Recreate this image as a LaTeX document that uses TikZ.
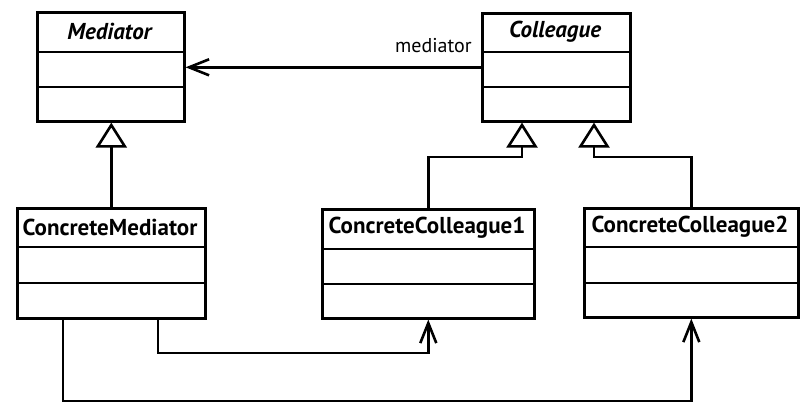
\documentclass[tikz,border=0pt]{standalone}
\usepackage{fontspec}
\setmainfont{PT Sans}
\usetikzlibrary{arrows.meta,calc}
\begin{document}
\begin{tikzpicture}[x=1pt,y=-1pt,line width=2.6pt,
  classbox/.style={draw,rectangle,anchor=north west,inner sep=0pt},
  title/.style={font=\fontsize{23}{26}\selectfont\bfseries,inner sep=0pt},
  atitle/.style={font=\fontsize{23}{26}\selectfont\bfseries\itshape,inner sep=0pt},
  lbl/.style={font=\fontsize{20}{24}\selectfont,inner sep=0pt},
  assoc/.style={-{Straight Barb[length=20pt,width=16pt]}},
  gen/.style={-{Triangle[open,length=25pt,width=31pt]}}]
\useasboundingbox (0,0) rectangle (811,416);
% classes
\node[classbox,minimum width=147pt,minimum height=109pt] (med) at (36,11) {};
\draw ($(med.north west)+(0,41)$) -- ($(med.north east)+(0,41)$);
\draw ($(med.north west)+(0,76)$) -- ($(med.north east)+(0,76)$);
\node[atitle] (medt) at (109.5,31) {Mediator};

\node[classbox,minimum width=148pt,minimum height=108pt] (coll) at (481,12) {};
\draw ($(coll.north west)+(0,40)$) -- ($(coll.north east)+(0,40)$);
\draw ($(coll.north west)+(0,75)$) -- ($(coll.north east)+(0,75)$);
\node[atitle] (collt) at (555,32) {Colleague};

\node[classbox,minimum width=188pt,minimum height=110pt] (cm) at (16,207) {};
\draw ($(cm.north west)+(0,40)$) -- ($(cm.north east)+(0,40)$);
\draw ($(cm.north west)+(0,76)$) -- ($(cm.north east)+(0,76)$);
\node[title] (cmt) at (110,227) {ConcreteMediator};

\node[classbox,minimum width=212pt,minimum height=109pt] (cc1) at (321,208) {};
\draw ($(cc1.north west)+(0,41)$) -- ($(cc1.north east)+(0,41)$);
\draw ($(cc1.north west)+(0,76)$) -- ($(cc1.north east)+(0,76)$);
\node[title] (cc1t) at (427,228) {ConcreteColleague1};

\node[classbox,minimum width=214pt,minimum height=109pt] (cc2) at (583,207) {};
\draw ($(cc2.north west)+(0,40)$) -- ($(cc2.north east)+(0,40)$);
\draw ($(cc2.north west)+(0,76)$) -- ($(cc2.north east)+(0,76)$);
\node[title] (cc2t) at (690,227) {ConcreteColleague2};

% association Colleague -> Mediator
\draw[assoc] (coll.west) -- (coll.west -| med.east);
\node[lbl,anchor=east] (ml) at (473,46) {mediator};

% generalizations
\draw[gen] (cm.north) -- (cm.north |- med.south);
\coordinate (g1) at (522,157);
\coordinate (g2) at (594,157);
\draw[gen] (cc1.north) |- (g1) -- (g1 |- coll.south);
\draw[gen] (cc2.north) |- (g2) -- (g2 |- coll.south);

% ConcreteMediator -> colleagues
\coordinate (b1) at (158,353);
\coordinate (b2) at (63,401);
\draw[assoc] (b1 |- cm.south) -- (b1) -| (cc1.south);
\draw[assoc] (b2 |- cm.south) -- (b2) -| (cc2.south);
\end{tikzpicture}
\end{document}
